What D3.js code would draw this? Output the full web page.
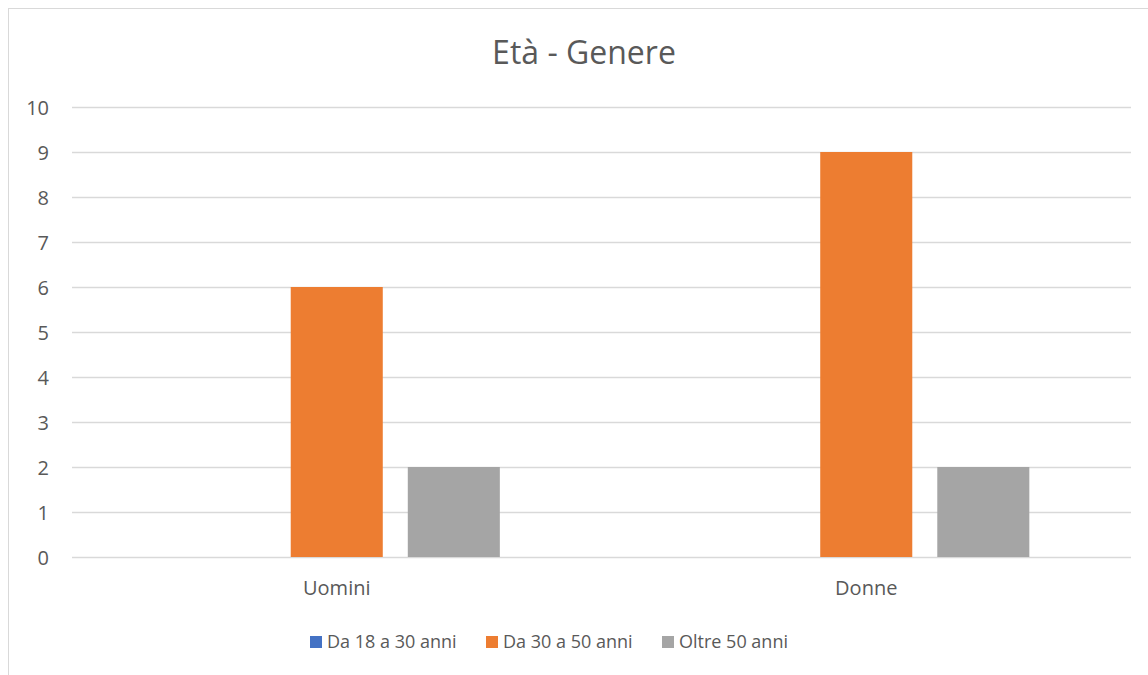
<!DOCTYPE html>
<html>
<head>
<meta charset="utf-8">
<script src="https://cdn.jsdelivr.net/npm/d3@7"></script>
<style>
  body { margin: 0; background: #fff; }
  text { font-family: "Open Sans", sans-serif; fill: #595959; }
</style>
</head>
<body>
<svg></svg>
<script>
const size = {w: 1148, h: 675};
const margin = {t: 107, r: 17, b: 118, l: 72};

// data
const categories = ['Uomini', 'Donne'];
const series = ['Da 18 a 30 anni', 'Da 30 a 50 anni', 'Oltre 50 anni'];
const values18_30 = [0, 0];
const values30_50 = [6, 9];
const valuesOltre50 = [2, 2];
const yTicks = [0, 1, 2, 3, 4, 5, 6, 7, 8, 9, 10];
const colors = ['#4472c4', '#ed7d31', '#a5a5a5'];
const title = 'Età - Genere';

const allValues = [values18_30, values30_50, valuesOltre50];

const svg = d3.select('svg')
    .attr('width', size.w)
    .attr('height', size.h);

// chart border (runs off the right/bottom of the window)
svg.append('rect')
    .attr('x', 8.5).attr('y', 8.5)
    .attr('width', size.w + 10).attr('height', size.h + 10)
    .attr('fill', 'none')
    .attr('stroke', '#d9d9d9');

const plotW = size.w - margin.l - margin.r;
const plotH = size.h - margin.t - margin.b;

const g = svg.append('g')
    .attr('transform', `translate(${margin.l},${margin.t})`);

const y = d3.scaleLinear().domain([0, 10]).range([plotH, 0]);

const x0 = d3.scaleBand().domain(categories).range([0, plotW]);
const groupW = x0.bandwidth() * 0.616;
const x1 = d3.scaleBand().domain(series)
    .range([-groupW / 2, groupW / 2])
    .paddingInner(0.2137);

// gridlines
g.append('g')
    .selectAll('line')
    .data(yTicks)
    .join('line')
    .attr('x1', 0).attr('x2', plotW)
    .attr('y1', d => Math.round(y(d)) + 0.5)
    .attr('y2', d => Math.round(y(d)) + 0.5)
    .attr('stroke', '#d9d9d9')
    .attr('stroke-width', 1.3);

// y axis labels
const yAxis = g.append('g')
    .call(d3.axisLeft(y).tickValues(yTicks).tickSize(0).tickPadding(23));
yAxis.select('.domain').remove();
yAxis.selectAll('text')
    .style('font-size', '20px')
    .attr('dy', '0.36em')
    .attr('fill', '#595959');

// bars
const barData = [];
categories.forEach((c, i) => {
    series.forEach((s, j) => {
        barData.push({cat: c, ser: s, val: allValues[j][i], color: colors[j]});
    });
});

g.append('g')
    .selectAll('rect')
    .data(barData)
    .join('rect')
    .attr('x', d => x0(d.cat) + x0.bandwidth() / 2 + x1(d.ser))
    .attr('y', d => y(d.val))
    .attr('width', x1.bandwidth())
    .attr('height', d => y(0) - y(d.val))
    .attr('fill', d => d.color);

// x axis labels
const xAxis = g.append('g')
    .attr('transform', `translate(0,${plotH})`)
    .call(d3.axisBottom(x0).tickSize(0).tickPadding(24));
xAxis.select('.domain').remove();
xAxis.selectAll('text')
    .style('font-size', '20px')
    .attr('fill', '#595959');

// title
svg.append('text')
    .attr('x', 584)
    .attr('y', 64)
    .attr('text-anchor', 'middle')
    .style('font-size', '32px')
    .text(title);

// legend
const legendX = [310, 486, 662];
const legend = svg.append('g')
    .selectAll('g')
    .data(series)
    .join('g')
    .attr('transform', (d, i) => `translate(${legendX[i]},636)`);

legend.append('rect')
    .attr('width', 12).attr('height', 12)
    .attr('fill', (d, i) => colors[i]);

legend.append('text')
    .attr('x', 17)
    .attr('y', 12)
    .style('font-size', '18px')
    .text(d => d);
</script>
</body>
</html>
